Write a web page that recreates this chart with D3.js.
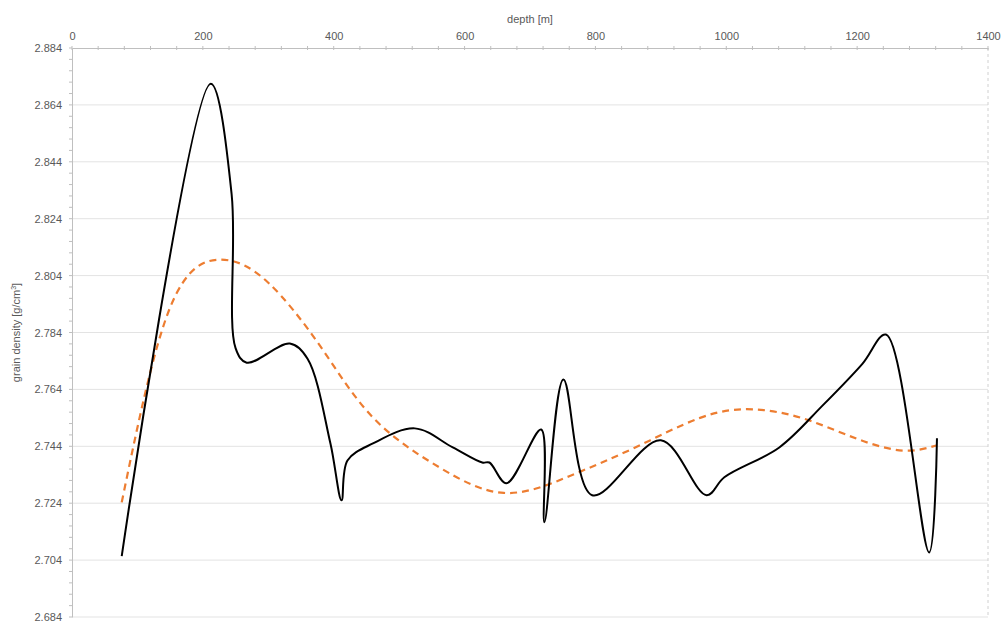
<!DOCTYPE html>
<html>
<head>
<meta charset="utf-8">
<script src="https://cdn.jsdelivr.net/npm/d3@7"></script>
<style>
  html, body { margin: 0; padding: 0; background: #fff; }
  svg { display: block; font-family: "Liberation Sans", Arial, sans-serif; }
</style>
</head>
<body>
<div id="chart"></div>
<script>
// measured series (depth in m, grain density in g/cm3)
const measuredDepth = [76, 212, 244, 250, 267, 333, 360, 395, 412, 421, 460, 524, 582, 627, 638, 664, 717, 722, 751, 795, 900, 970, 997, 1081, 1147, 1208, 1244, 1310, 1322];
const measuredDensity = [2.7054, 2.8714, 2.8325, 2.7785, 2.7734, 2.7801, 2.7748, 2.7450, 2.7250, 2.7390, 2.7450, 2.7503, 2.7436, 2.7383, 2.7383, 2.7310, 2.7499, 2.7173, 2.7675, 2.7268, 2.7461, 2.7268, 2.7331, 2.7436, 2.7583, 2.7730, 2.7833, 2.7067, 2.7468];

// trend series (dashed orange)
const trendDepth = [76, 150, 228, 300, 380, 460, 560, 660, 760, 860, 960, 1040, 1120, 1200, 1270, 1321];
const trendDensity = [2.7243, 2.7928, 2.8096, 2.8015, 2.7790, 2.7541, 2.7368, 2.7276, 2.7335, 2.7435, 2.7540, 2.7570, 2.7536, 2.7466, 2.7425, 2.7443];

const xTicks = [0, 200, 400, 600, 800, 1000, 1200, 1400];
const yTicks = [2.684, 2.704, 2.724, 2.744, 2.764, 2.784, 2.804, 2.824, 2.844, 2.864, 2.884];

const width = 1003;
const height = 623;
const margin = { top: 48, right: 15, bottom: 6, left: 72 };

const svg = d3.select("#chart")
  .append("svg")
  .attr("width", width)
  .attr("height", height);

const x = d3.scaleLinear().domain([0, 1400]).range([margin.left, width - margin.right]);
const y = d3.scaleLinear().domain([2.684, 2.884]).range([height - margin.bottom, margin.top]);

const gridColor = "#e3e3e3";
const axisColor = "#bfbfbf";
const textColor = "#595959";

// horizontal gridlines
svg.append("g")
  .selectAll("line")
  .data(yTicks.slice(0, -1))
  .join("line")
  .attr("x1", x(0))
  .attr("x2", x(1400))
  .attr("y1", d => y(d))
  .attr("y2", d => y(d))
  .attr("stroke", gridColor)
  .attr("stroke-width", 1);

// right border dashed
svg.append("line")
  .attr("x1", x(1400)).attr("x2", x(1400))
  .attr("y1", y(2.884)).attr("y2", y(2.684))
  .attr("stroke", "#d0d0d0")
  .attr("stroke-dasharray", "3,3");

// top x axis
const xAxis = d3.axisTop(x)
  .tickValues(xTicks)
  .tickSize(0)
  .tickPadding(8)
  .tickFormat(d3.format("d"));

const gx = svg.append("g")
  .attr("transform", `translate(0,${margin.top})`)
  .call(xAxis);
gx.select(".domain").attr("stroke", axisColor);
gx.selectAll("text").attr("fill", textColor).style("font-size", "11px");

svg.append("g")
  .selectAll("line")
  .data(d3.range(0, 1401, 40))
  .join("line")
  .attr("x1", d => x(d)).attr("x2", d => x(d))
  .attr("y1", margin.top - 2).attr("y2", margin.top + 2)
  .attr("stroke", axisColor);

// left y axis
const yAxis = d3.axisLeft(y)
  .tickValues(yTicks)
  .tickSize(0)
  .tickPadding(10)
  .tickFormat(d3.format(".3f"));

const gy = svg.append("g")
  .attr("transform", `translate(${margin.left},0)`)
  .call(yAxis);
gy.select(".domain").attr("stroke", axisColor);
gy.selectAll("text").attr("fill", textColor).style("font-size", "11px");

svg.append("g")
  .selectAll("line")
  .data(d3.range(0, 51).map(i => 2.684 + i * 0.004))
  .join("line")
  .attr("x1", margin.left - 3).attr("x2", margin.left)
  .attr("y1", d => y(d)).attr("y2", d => y(d))
  .attr("stroke", axisColor);

// axis titles
svg.append("text")
  .attr("x", x(700))
  .attr("y", 23)
  .attr("text-anchor", "middle")
  .attr("fill", textColor)
  .style("font-size", "11px")
  .text("depth [m]");

svg.append("text")
  .attr("transform", `translate(20,${(y(2.684) + y(2.884)) / 2}) rotate(-90)`)
  .attr("text-anchor", "middle")
  .attr("fill", textColor)
  .style("font-size", "11px")
  .html("grain density [g/cm<tspan dy='-4' font-size='7px'>3</tspan><tspan dy='4'>]</tspan>");

// lines
const line = d3.line()
  .x(d => x(d[0]))
  .y(d => y(d[1]))
  .curve(d3.curveCatmullRom.alpha(0.5));

const trendLine = d3.line()
  .x(d => x(d[0]))
  .y(d => y(d[1]))
  .curve(d3.curveNatural);

svg.append("path")
  .datum(d3.zip(trendDepth, trendDensity))
  .attr("fill", "none")
  .attr("stroke", "#ed7d31")
  .attr("stroke-width", 2.2)
  .attr("stroke-dasharray", "7,5")
  .attr("d", trendLine);

svg.append("path")
  .datum(d3.zip(measuredDepth, measuredDensity))
  .attr("fill", "none")
  .attr("stroke", "#000")
  .attr("stroke-width", 2)
  .attr("stroke-linejoin", "round")
  .attr("d", line);
</script>
</body>
</html>
